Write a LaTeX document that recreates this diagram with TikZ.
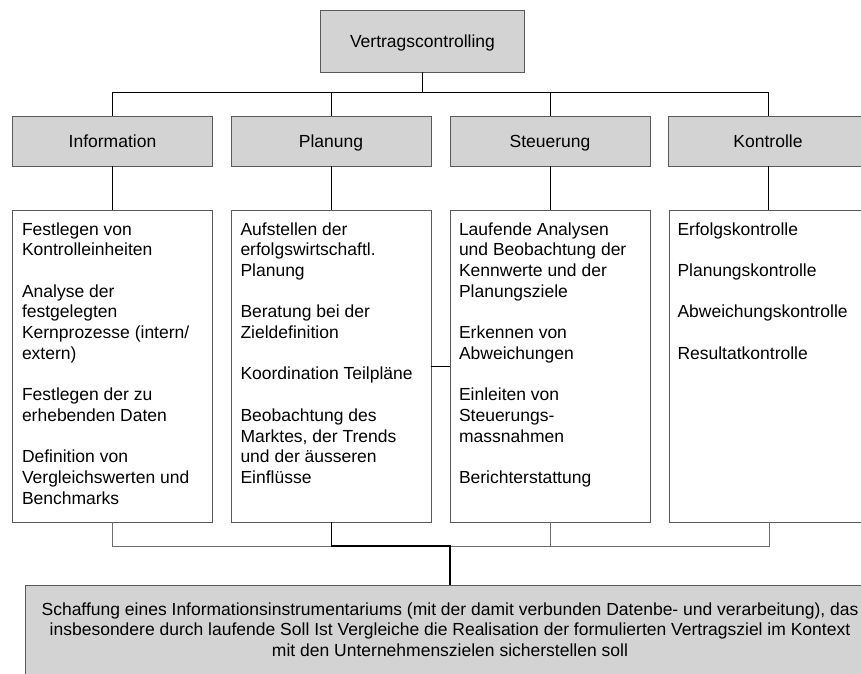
\documentclass[tikz,border=0pt]{standalone}
\usepackage{fontspec}
\setmainfont{Liberation Sans}
\newcommand\diagfont{\fontsize{17.5}{20.7}\selectfont}
\definecolor{boxfill}{RGB}{211,211,211}
\definecolor{boxline}{RGB}{90,90,90}
\definecolor{softline}{RGB}{110,110,110}
\begin{document}
\begin{tikzpicture}[x=1pt,y=-1pt,
  every node/.style={inner sep=0pt, outer sep=0pt},
  box/.style={draw=boxline, line width=0.9pt, rectangle},
  head/.style={box, fill=boxfill, minimum width=200pt, minimum height=50pt,
    font=\diagfont, text height=12.5pt, text depth=0pt},
  detail/.style={box, fill=white, minimum width=200pt, minimum height=312pt},
  itemtext/.style={anchor=north west, align=left, font=\diagfont},
  link/.style={draw=black, line width=0.9pt},
  softlink/.style={draw=softline, line width=0.9pt},
  mainlink/.style={draw=black, line width=1.4pt},
]
\useasboundingbox (0,0) rectangle (861,673);
\clip (0,0) rectangle (861,673);

% root
\node[head, minimum width=204pt, minimum height=62pt] (top) at (422.5,41) {Vertragscontrolling};

% the four areas
\node[head] (c1) at (112.5,141) {Information};
\node[head] (c2) at (331,141) {Planung};
\node[head] (c3) at (550,141) {Steuerung};
\node[head] (c4) at (768,141) {Kontrolle};

% task lists
\node[detail] (d1) at (112.5,366) {};
\node[detail] (d2) at (331,366) {};
\node[detail] (d3) at (550,366) {};
\node[detail] (d4) at (769,366) {};

\node[itemtext] (t1) at ([shift={(9.5,12.4)}]d1.north west)
  {Festlegen von\\Kontrolleinheiten\\[20.7pt]
   Analyse der\\festgelegten\\Kernprozesse (intern/\\extern)\\[20.7pt]
   Festlegen der zu\\erhebenden Daten\\[20.7pt]
   Definition von\\Vergleichswerten und\\Benchmarks};
\node[itemtext] (t2) at ([shift={(9.5,12.4)}]d2.north west)
  {Aufstellen der\\erfolgswirtschaftl.\\Planung\\[20.7pt]
   Beratung bei der\\Zieldefinition\\[20.7pt]
   Koordination Teilpläne\\[20.7pt]
   Beobachtung des\\Marktes, der Trends\\und der äusseren\\Einflüsse};
\node[itemtext] (t3) at ([shift={(9,12.4)}]d3.north west)
  {Laufende Analysen\\und Beobachtung der\\Kennwerte und der\\Planungsziele\\[20.7pt]
   Erkennen von\\Abweichungen\\[20.7pt]
   Einleiten von\\Steuerungs-\\massnahmen\\[20.7pt]
   Berichterstattung};
\node[itemtext] (t4) at ([shift={(8.5,12.4)}]d4.north west)
  {Erfolgskontrolle\\[20.7pt]
   Planungskontrolle\\[20.7pt]
   Abweichungskontrolle\\[20.7pt]
   Resultatkontrolle};

% goal (box runs past the lower and right edges)
\node[box, fill=boxfill, minimum width=850pt, minimum height=100pt] (goal) at (450,635) {};
\node[align=center, font=\diagfont] (goaltext) at (450,629.5)
  {Schaffung eines Informationsinstrumentariums (mit der damit verbunden Datenbe- und verarbeitung), das\\
   insbesondere durch laufende Soll Ist Vergleiche die Realisation der formulierten Vertragsziel im Kontext\\
   mit den Unternehmenszielen sicherstellen soll};

% upper connectors
\coordinate (bus) at (422.5,92);
\coordinate (bus2) at (450,546);
\draw[link] (top.south) -- (bus);
\draw[link] (c1.north) |- (c4.north |- bus) -- (c4.north);
\draw[link] (c2.north) -- (c2.north |- bus);
\draw[link] (c3.north) -- (c3.north |- bus);

% area to task list
\draw[link] (c1.south) -- (d1.north);
\draw[link] (c2.south) -- (d2.north);
\draw[link] (c3.south) -- (d3.north);
\draw[link] (c4.south) -- (c4.south |- d4.north);
\draw[link] (d2.east) -- (d3.west);

% lower connectors
\draw[softlink] (d1.south) |- (d4.south |- bus2) -- (d4.south);
\draw[softlink] (d3.south) -- (d3.south |- bus2);
\draw[link] (d2.south) -- (d2.south |- bus2);
\draw[mainlink] (d2.south |- bus2) -- (bus2) -- (goal.north);
\end{tikzpicture}
\end{document}
